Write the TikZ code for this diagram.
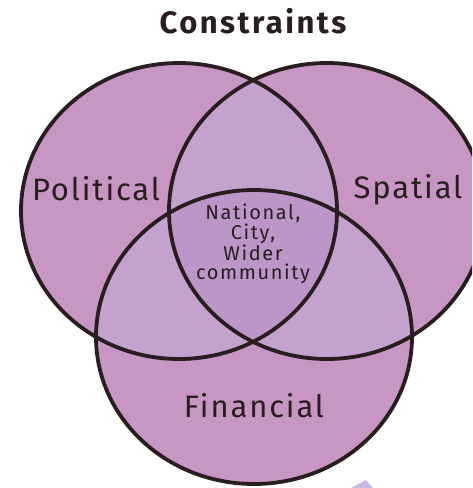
\documentclass[tikz,border=0pt]{standalone}
\usepackage{fontspec}
\setmainfont{Fira Sans}
\newfontfamily\labelfont[LetterSpace=6]{Fira Sans}
\newfontfamily\centerfont[LetterSpace=8]{Fira Sans}
\newfontfamily\titlefont[LetterSpace=8]{Fira Sans}
\definecolor{onefill}{RGB}{200,150,195}
\definecolor{twofill}{RGB}{195,162,205}
\definecolor{threefill}{RGB}{188,150,200}
\definecolor{rim}{RGB}{40,30,30}
\definecolor{sliver}{RGB}{200,185,225}
\tikzset{
  rimline/.style={draw=rim, line width=3.8pt},
  lbl/.style={font=\labelfont\fontsize{31}{31}\selectfont, text=rim, inner sep=0pt},
  centerlbl/.style={font=\centerfont\fontsize{20}{19.5}\selectfont, text=rim, align=center, inner sep=0pt},
  titlelbl/.style={font=\titlefont\bfseries\fontsize{31}{31}\selectfont, text=rim, inner sep=0pt}
}
\begin{document}
\begin{tikzpicture}[x=1pt,y=-1pt]
\useasboundingbox (0,0) rectangle (472,488);
\begin{scope}
\clip (0,0) rectangle (472,488);
\def\pol{(179,211) ellipse [x radius=158, y radius=148]}
\def\spa{(327,211) ellipse [x radius=158, y radius=148]}
\def\fin{(254,337) ellipse [x radius=158, y radius=147]}
\fill[onefill] \pol;
\fill[onefill] \spa;
\fill[onefill] \fin;
\begin{scope}\clip \pol; \fill[twofill] \spa; \fill[twofill] \fin; \end{scope}
\begin{scope}\clip \spa; \fill[twofill] \fin; \end{scope}
\begin{scope}\clip \pol; \clip \spa; \fill[threefill] \fin; \end{scope}
\path[rimline] \pol;
\path[rimline] \spa;
\path[rimline] \fin;
\end{scope}
\fill[sliver] (351,488) -- (366,480) -- (373,488) -- cycle;
\node[titlelbl] (title) at (253,21) {Constraints};
\node[lbl] (political) at (96,189) {Political};
\node[lbl] (spatial) at (408,190) {Spatial};
\node[lbl] (financial) at (254,406) {Financial};
\node[centerlbl] (center) at (253,244) {National,\\City,\\Wider\\community};
\end{tikzpicture}
\end{document}
